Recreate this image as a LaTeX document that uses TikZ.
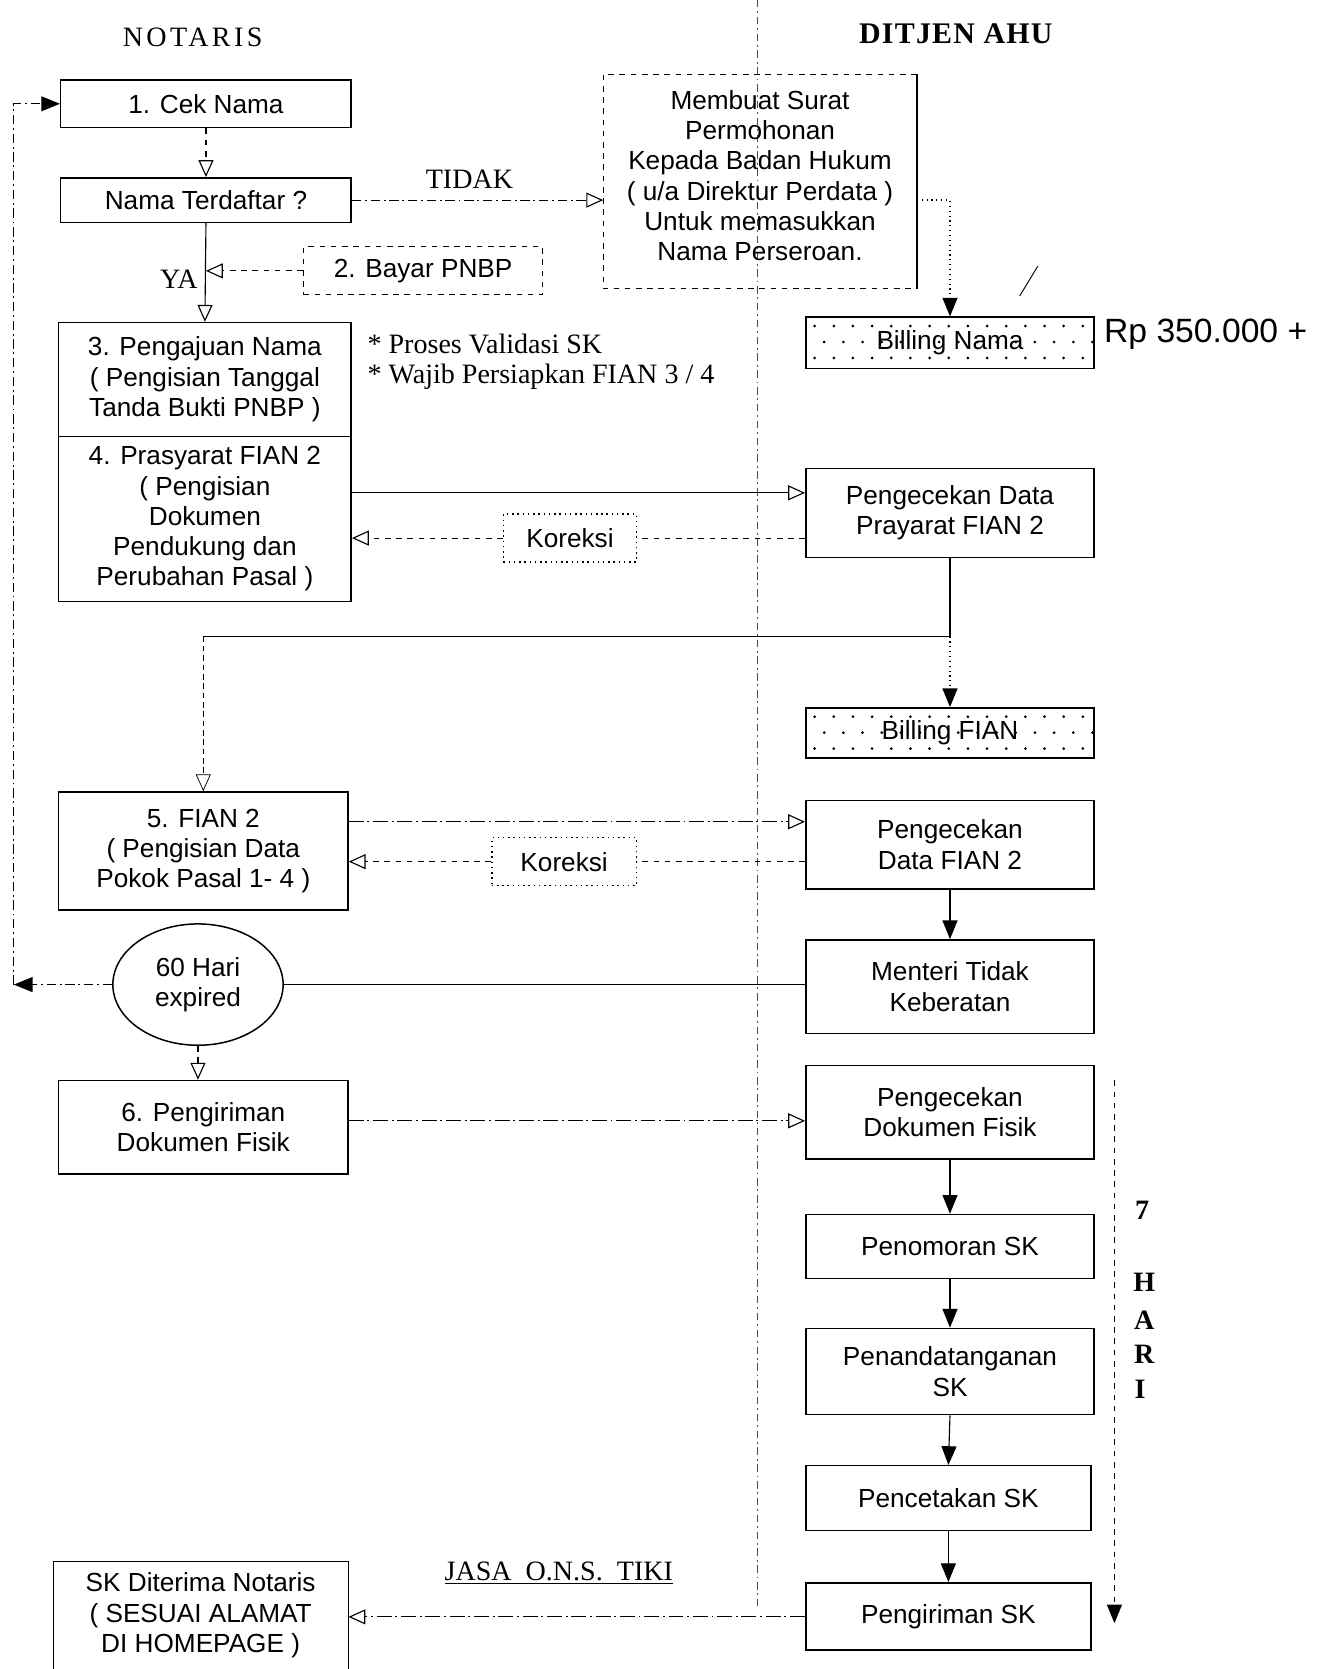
\documentclass[tikz,border=0pt]{standalone}
\usepackage{fontspec}
\setmainfont{Liberation Sans}
\newfontfamily\serifnote{Liberation Serif}
\newfontfamily\hdrA[LetterSpace=12]{Liberation Serif}
\newfontfamily\hdrB[LetterSpace=4]{Liberation Serif}
\usetikzlibrary{arrows.meta,shapes.geometric,calc}
\tikzset{
  box/.style={draw, line width=0.8pt, inner sep=0pt, align=center, font=\fontsize{14}{16.2}\selectfont},
  dbox/.style={box, dashed, line width=0.5pt},
  kbox/.style={box, dotted, line width=0.8pt},
  plain/.style={inner sep=0pt, align=center, font=\fontsize{14}{16.2}\selectfont},
  conn/.style={line width=0.6pt},
  oarr/.style={conn, -{Triangle[open,length=9pt,width=8pt]}},
  farr/.style={conn, -{Triangle[length=10pt,width=8pt]}},
  sernote/.style={inner sep=0pt, font=\serifnote\fontsize{15}{17}\selectfont},
  hari/.style={inner sep=0pt, font=\serifnote\bfseries\fontsize{15}{17}\selectfont},
}
\begin{document}
\begin{tikzpicture}[x=0.02cm,y=-0.02cm]
\useasboundingbox (0,0) rectangle (1246,1568);

% divider
\draw[line width=0.4pt, dash pattern=on 4pt off 2pt on 1pt off 2pt, black!70] (712,0) -- (712,1510);

% headers
\node[inner sep=0pt, font=\hdrA\fontsize{15}{17}\selectfont] (hn) at (181,35) {NOTARIS};
\node[inner sep=0pt, font=\hdrB\bfseries\fontsize{16}{18}\selectfont] (hd) at (898,32) {DITJEN AHU};

% left column
\node[box, minimum width=5.46cm, minimum height=0.9cm] (b1) at (193.5,97.5) {1. Cek Nama};
\node[box, minimum width=5.46cm, minimum height=0.84cm] (nt) at (193.5,188) {Nama Terdaftar ?};
\node[dbox, minimum width=4.5cm, minimum height=0.9cm] (bay) at (397.5,254.5) {2. Bayar PNBP};
\node[box, minimum width=5.5cm, minimum height=2.14cm] (b3) at (192.5,356.5) {3. Pengajuan Nama\\( Pengisian Tanggal\\Tanda Bukti PNBP )};
\node[box, minimum width=5.5cm, minimum height=3.1cm] (b4) at (192.5,487.5) {4. Prasyarat FIAN 2\\( Pengisian\\Dokumen\\Pendukung dan\\Perubahan Pasal )};
\node[box, minimum width=5.44cm, minimum height=2.22cm] (b5) at (191,799.5) {5. FIAN 2\\( Pengisian Data\\Pokok Pasal 1- 4 )};
\node[draw, ellipse, line width=0.8pt, minimum width=3.2cm, minimum height=2.28cm, inner sep=0pt, align=center, font=\fontsize{14}{16.2}\selectfont] (ell) at (186,925) {60 Hari\\expired};
\node[box, minimum width=5.44cm, minimum height=1.76cm] (b6) at (191,1059) {6. Pengiriman\\Dokumen Fisik};
\node[box, line width=0.5pt, minimum width=5.54cm, minimum height=2.02cm] (skd) at (188.5,1517.5) {SK Diterima Notaris\\( SESUAI ALAMAT\\DI HOMEPAGE )};

% notes
\node[sernote, anchor=west] (n1) at (345,323) {* Proses Validasi SK};
\node[sernote, anchor=west] (n2) at (345,354) {* Wajib Persiapkan FIAN 3 / 4};
\node[sernote] (tidak) at (441,168) {TIDAK};
\node[sernote] (ya) at (168,262) {YA};
\node[sernote] (jasa) at (525,1478) {\underline{JASA\ \ O.N.S.\ \ TIKI}};

% Membuat surat
\node[minimum width=5.88cm, minimum height=4.02cm, inner sep=0pt] (mem) at (714,170.5) {};
\node[plain] (memt) at (714,165) {Membuat Surat\\Permohonan\\Kepada Badan Hukum\\( u/a Direktur Perdata )\\Untuk memasukkan\\Nama Perseroan.};
\draw[line width=0.5pt, dashed] (mem.north east) -- (mem.north west) -- (mem.south west) -- (mem.south east);
\draw[line width=0.8pt] (mem.north east) -- (mem.south east);

% right column
\node[box, minimum width=5.42cm, minimum height=0.96cm] (bn) at (892.5,322) {};
\node[box, minimum width=5.42cm, minimum height=1.68cm] (pc1) at (892.5,482) {Pengecekan Data\\Prayarat FIAN 2};
\node[kbox, minimum width=2.5cm, minimum height=0.9cm] (k1) at (535.5,505.5) {Koreksi};
\node[box, minimum width=5.42cm, minimum height=0.94cm] (bf) at (892.5,688.5) {};
\node[box, minimum width=5.42cm, minimum height=1.66cm] (pc2) at (892.5,793.5) {Pengecekan\\Data FIAN 2};
\node[kbox, minimum width=2.72cm, minimum height=0.9cm] (k2) at (530,809.5) {Koreksi};
\node[box, minimum width=5.42cm, minimum height=1.76cm] (men) at (892.5,927) {Menteri Tidak\\Keberatan};
\node[box, minimum width=5.42cm, minimum height=1.76cm] (pdf) at (892.5,1045) {Pengecekan\\Dokumen Fisik};
\node[box, minimum width=5.42cm, minimum height=1.2cm] (pno) at (892.5,1171) {Penomoran SK};
\node[box, minimum width=5.42cm, minimum height=1.62cm] (ptt) at (892.5,1288.5) {Penandatanganan\\SK};
\node[box, minimum width=5.36cm, minimum height=1.22cm] (pct) at (891,1407.5) {Pencetakan SK};
\node[box, minimum width=5.36cm, minimum height=1.26cm] (psk) at (891,1518.5) {Pengiriman SK};

% dotted fill of billing boxes
\foreach \bx in {bn,bf}{
  \begin{scope}
    \clip (\bx.south west) rectangle (\bx.north east);
    \foreach \i in {0,...,15}{
      \foreach \j/\o in {0/0,1/9,2/0}{
        \fill ($(\bx.north west)+(9+\o+18*\i,9+15*\j)$) circle (0.8pt);
      }
    }
  \end{scope}
}
\node[plain, fill=none] (bnt) at (bn.center) {Billing Nama};
\node[plain, fill=none] (bft) at (bf.center) {Billing FIAN};

% handwritten note
\node[inner sep=0pt, anchor=west, font=\fontsize{18}{20}\selectfont] (rp) at (1037,314) {Rp 350.000 +};
\draw[line width=0.5pt] (958,278) -- (975,250);

% coordinates for horizontal levels
\coordinate (y463) at (0,463);
\coordinate (hz) at (0,598);
\coordinate (y772) at (0,772);
\coordinate (y1053) at (0,1053);
\coordinate (y1519) at (0,1519);
\coordinate (lft) at (13,0);

% connectors left
\draw[oarr, dashed] (b1.south) -- (nt.north);
\draw[oarr, dash pattern=on 5pt off 2pt on 1pt off 2pt] (nt.east) -- (mem.west |- nt.east);
\draw[oarr] (nt.south) -- (b3.north);
\draw[oarr, dashed] (bay.west) -- (bay.west -| nt.south);
\draw[conn, dotted, line width=0.8pt, -{Triangle[length=10pt,width=8pt]}] (mem.east |- nt.east) -| (bn.north);

% FIAN 2 prasyarat
\draw[oarr] (b4.east |- y463) -- (pc1.west |- y463);
\draw[conn, dashed] (pc1.west |- k1.east) -- (k1.east);
\draw[oarr, dashed] (k1.west) -- (k1.west -| b4.east);

% after pengecekan
\draw[conn] (pc1.south) -- (pc1.south |- hz) -- (b5.north |- hz);
\draw[oarr, densely dashed, line width=0.4pt] (b5.north |- hz) -- (b5.north);
\draw[conn, dotted, line width=0.8pt, -{Triangle[length=10pt,width=8pt]}] (pc1.south |- hz) -- (bf.north);

% FIAN 2
\draw[oarr, dash pattern=on 8pt off 2pt on 1pt off 2pt] (b5.east |- y772) -- (pc2.west |- y772);
\draw[conn, dashed] (pc2.west |- k2.east) -- (k2.east);
\draw[oarr, dashed] (k2.west) -- (k2.west -| b5.east);
\draw[farr] (pc2.south) -- (men.north);
\draw[conn] (ell.east) -- (ell.east -| men.west);

% return loop
\draw[farr, dash pattern=on 5pt off 2pt on 1pt off 2pt] (ell.west) -- (ell.west -| lft);
\draw[farr, dash pattern=on 5pt off 2pt on 1pt off 2pt] (ell.west -| lft) -- (b1.west -| lft) -- (b1.west);

\draw[oarr, dashed] (ell.south) -- (ell.south |- b6.north);
\draw[oarr, dash pattern=on 8pt off 2pt on 1pt off 2pt] (b6.east |- y1053) -- (pdf.west |- y1053);

% right chain
\draw[farr] (pdf.south) -- (pno.north);
\draw[farr] (pno.south) -- (ptt.north);
\draw[farr] (ptt.south) -- (pct.north);
\draw[farr] (pct.south) -- (psk.north);
\draw[oarr, dash pattern=on 8pt off 2pt on 1pt off 2pt] (psk.west |- y1519) -- (skd.east |- y1519);

% 7 HARI
\coordinate (h1) at (1047,1015);
\coordinate (h2) at (1047,1525);
\draw[farr, dashed, line width=0.8pt] (h1) -- (h2);
\node[hari] (h7) at (1073,1137) {7};
\node[hari] (hH) at (1075,1205) {H};
\node[hari] (hA) at (1075,1240) {A};
\node[hari] (hR) at (1075,1272) {R};
\node[hari] (hI) at (1071,1305) {I};
\end{tikzpicture}
\end{document}
